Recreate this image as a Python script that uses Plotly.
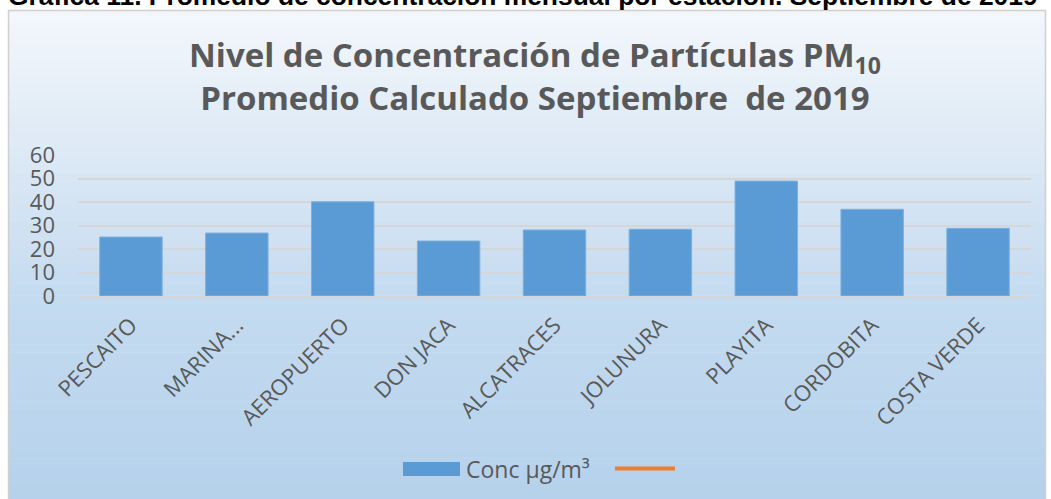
import plotly.graph_objects as go

stations = ["PESCAITO", "MARINA...", "AEROPUERTO", "DON JACA", "ALCATRACES",
            "JOLUNURA", "PLAYITA", "CORDOBITA", "COSTA VERDE"]
conc = [25.1, 26.8, 40.1, 23.4, 28.1, 28.4, 48.9, 36.9, 28.8]
y_ticks = [0, 10, 20, 30, 40, 50, 60]
series_name = "Conc µg/m³"
caption = "Gráfica 11. Promedio de concentración mensual por estación. Septiembre de 2019"
title_lines = ["Nivel de Concentración de Partículas PM<sub>10</sub>",
               "Promedio Calculado Septiembre  de 2019"]

W, H = 1051, 499
ML, MR, MT, MB = 78, 20, 155, 203
PW, PH = W - ML - MR, H - MT - MB

def px(sx):
    return (sx - ML) / PW

def py(sy):
    return (H - MB - sy) / PH

FONT = "Open Sans"
GREY = "#595959"

fig = go.Figure()
fig.add_trace(go.Bar(x=stations, y=conc, name=series_name,
                     marker=dict(color="#5b9bd5", line=dict(color="#7fb0de", width=1)),
                     showlegend=False))

shapes = []
stops = [(0, (245, 248, 252)), (150, (221, 233, 245)), (300, (196, 219, 240)), (499, (181, 209, 235))]
N = 60
top, bot = 10, 499
for i in range(N):
    y0 = top + (bot - top) * i / N
    y1 = top + (bot - top) * (i + 1) / N
    ym = (y0 + y1) / 2
    for j in range(len(stops) - 1):
        if stops[j][0] <= ym <= stops[j + 1][0]:
            a, ca = stops[j]
            b, cb = stops[j + 1]
            t = (ym - a) / (b - a)
            c = tuple(int(round(ca[k] + (cb[k] - ca[k]) * t)) for k in range(3))
            break
    shapes.append(dict(type="rect", xref="paper", yref="paper", layer="below",
                       x0=px(9), x1=px(1045), y0=py(y1 + 0.5), y1=py(y0),
                       fillcolor="rgb(%d,%d,%d)" % c, line=dict(width=0)))
shapes.append(dict(type="rect", xref="paper", yref="paper", layer="above",
                   x0=px(8.5), x1=px(1045.5), y0=py(510), y1=py(10.5),
                   fillcolor="rgba(0,0,0,0)", line=dict(color="#d0d0d0", width=1.5)))
shapes.append(dict(type="rect", xref="paper", yref="paper",
                   x0=px(403), x1=px(460), y0=py(476), y1=py(462),
                   fillcolor="#5b9bd5", line=dict(width=0)))
shapes.append(dict(type="line", xref="paper", yref="paper",
                   x0=px(615), x1=px(675), y0=py(468.5), y1=py(468.5),
                   line=dict(color="#ed7d31", width=4)))

annotations = [
    dict(text="<br>".join(title_lines),
         xref="paper", yref="paper", x=px(535), y=py(30), xanchor="center", yanchor="top",
         showarrow=False, font=dict(family=FONT, size=33, color=GREY, weight="bold")),
    dict(text=caption,
         xref="paper", yref="paper", x=px(6), y=py(13), xanchor="left", yanchor="bottom",
         showarrow=False, font=dict(family="Liberation Sans", size=26.4, color="#000000", weight="bold")),
    dict(text=series_name, xref="paper", yref="paper", x=px(464), y=py(469),
         xanchor="left", yanchor="middle", showarrow=False,
         font=dict(family=FONT, size=23, color=GREY)),
]

fig.update_layout(
    width=W, height=H,
    margin=dict(l=ML, r=MR, t=MT, b=MB, autoexpand=False),
    paper_bgcolor="white", plot_bgcolor="rgba(0,0,0,0)",
    bargap=0.41,
    shapes=shapes, annotations=annotations,
    font=dict(family=FONT, color=GREY),
)
fig.update_yaxes(range=[0, 60], tickvals=y_ticks, showgrid=True, gridcolor="#d6d6d6", gridwidth=1.5,
                 zeroline=False, showline=False, ticks="", automargin=False,
                 tickfont=dict(family=FONT, size=22, color=GREY), ticklabelstandoff=22)
fig.update_xaxes(tickangle=-45, showline=True, linecolor="#d6d6d6", linewidth=1.5, ticks="",
                 automargin=False, ticklabelstandoff=6,
                 tickfont=dict(family=FONT, size=22, color=GREY))

# remove the browser's default 8px body margin so the figure fills the window
fig.write_html("out.html", config={"displayModeBar": False},
               post_script="document.body.style.margin='0';document.body.style.overflow='hidden';")
